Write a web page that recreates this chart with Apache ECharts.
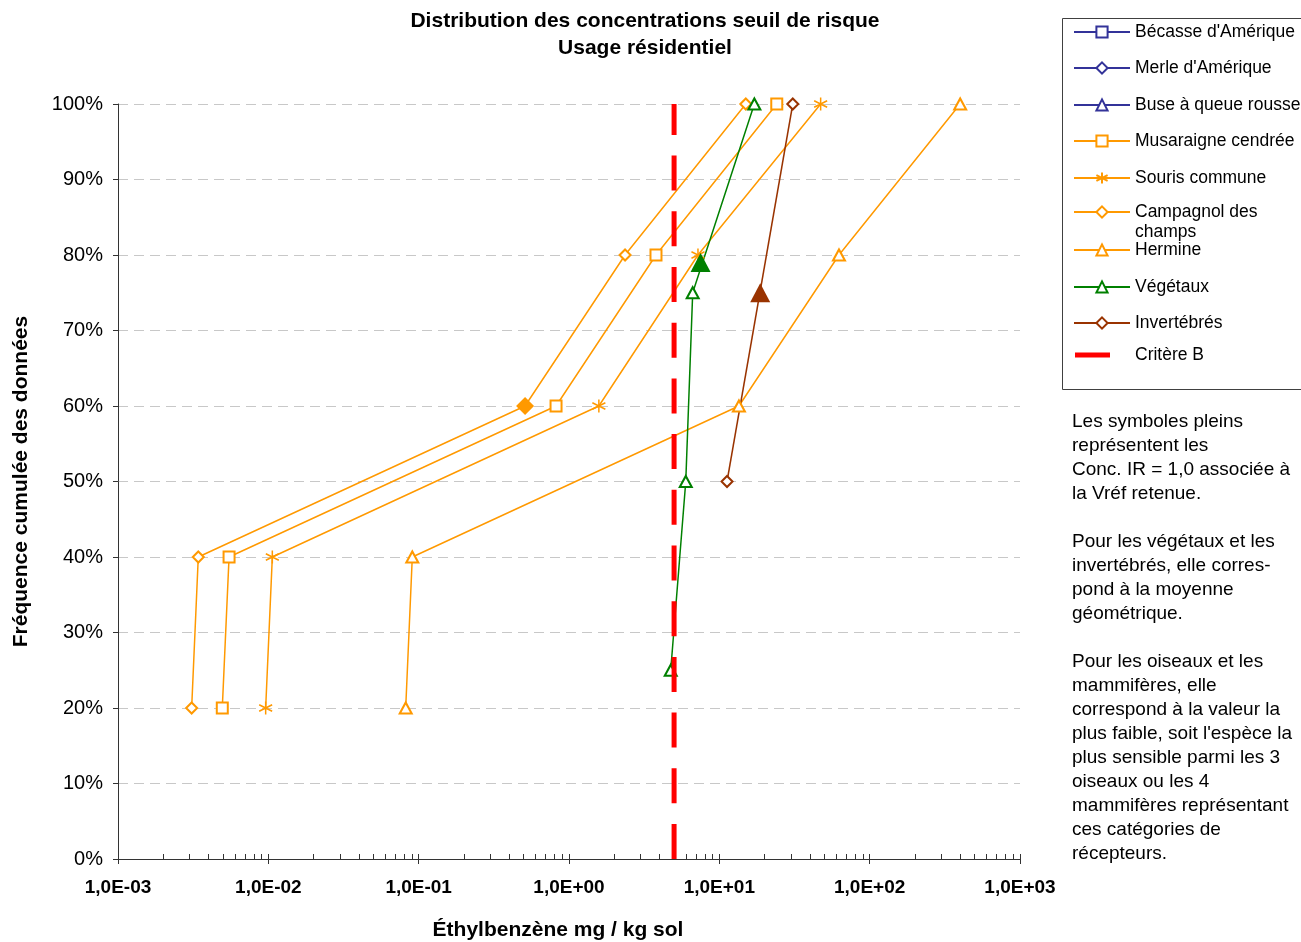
<!DOCTYPE html>
<html><head><meta charset="utf-8">
<script src="https://cdn.jsdelivr.net/npm/echarts@6/dist/echarts.min.js"></script>
<style>html,body{margin:0;padding:0;background:#fff}#chart{width:1301px;height:942px}</style>
</head><body><div id="chart"></div>
<script>
// ---------- DATA ----------
const titleText = 'Distribution des concentrations seuil de risque\nUsage résidentiel';
const xAxisName = 'Éthylbenzène mg / kg sol';
const yAxisName = 'Fréquence cumulée des données';
const xMajorTicks = [0.001, 0.01, 0.1, 1, 10, 100, 1000];
const xMinorTicks = [1000];
xMajorTicks.slice(0, -1).forEach(function (d) { for (let m = 1; m <= 9; m++) xMinorTicks.push(+(m * d).toPrecision(3)); });

const mammalY = [20, 40, 60, 80, 100];
const becasseX = [];
const merleX = [];
const buseX = [];
const musaraigneX = [0.00494, 0.00548, 0.82, 3.79, 24.1];
const sourisX = [0.0096, 0.01063, 1.58, 7.21, 47.2];
const campagnolX = [0.00309, 0.00342, 0.51, 2.36, 15.0];
const hermineX = [0.082, 0.0907, 13.5, 62.5, 400];
const vegetauxX = [4.75, 5.98, 6.65, 17.1];
const vegetauxY = [25, 50, 75, 100];
const invertX = [11.25, 30.8];
const invertY = [50, 100];
const critereB = 5;
const critereY = [0, 100];
// filled symbols (Conc. IR = 1,0)
const campagnolIR = [0.51, 60];
const vegetauxIR = [7.5, 79];
const invertIR = [18.7, 75];

const annotationLines = [
  'Les symboles pleins', 'représentent les', 'Conc. IR = 1,0 associée à', 'la Vréf retenue.', '',
  'Pour les végétaux et les', 'invertébrés, elle corres-', 'pond à la moyenne', 'géométrique.', '',
  'Pour les oiseaux et les', 'mammifères, elle', 'correspond à la valeur la', "plus faible, soit l'espèce la",
  'plus sensible parmi les 3', 'oiseaux ou les 4', 'mammifères représentant', 'ces catégories de', 'récepteurs.'
];

const names = ["Bécasse d'Amérique", "Merle d'Amérique", 'Buse à queue rousse', 'Musaraigne cendrée',
  'Souris commune', 'Campagnol des champs', 'Hermine', 'Végétaux', 'Invertébrés', 'Critère B'];

// ---------- STYLE / LAYOUT ----------
const FONT = 'Liberation Sans, Arial, sans-serif';
const ORANGE = '#FF9900', NAVY = '#333399', GREEN = '#008000', BROWN = '#993300', RED = '#FF0000';
const STAR = 'path://M5 0 L5 10 M0.7 2.5 L9.3 7.5 M0.7 7.5 L9.3 2.5';
const legendCenters = [30, 66, 103, 139, 176, 212, 248, 285, 321, 357];

function zip(xs, ys) { return xs.map(function (x, i) { return [x, ys[i]]; }); }
function lineSeries(name, data, color, symbol, size) {
  return {
    name: name, type: 'line', data: data, symbol: symbol, symbolSize: size,
    lineStyle: { color: color, width: 1.5 },
    itemStyle: { color: color, borderColor: color, borderWidth: 1.5 },
    emphasis: { disabled: true }, z: 2
  };
}
function fmtX(v) {
  const e = Math.round(Math.log10(v));
  const a = Math.abs(e);
  return '1,0E' + (e < 0 ? '-' : '+') + (a < 10 ? '0' : '') + a;
}

const series = [
  lineSeries(names[0], zip(becasseX, mammalY), NAVY, 'emptyRect', 11),
  lineSeries(names[1], zip(merleX, mammalY), NAVY, 'emptyDiamond', 11),
  lineSeries(names[2], zip(buseX, mammalY), NAVY, 'emptyTriangle', [12, 11]),
  lineSeries(names[3], zip(musaraigneX, mammalY), ORANGE, 'emptyRect', 11),
  lineSeries(names[4], zip(sourisX, mammalY), ORANGE, STAR, 13),
  lineSeries(names[5], zip(campagnolX, mammalY), ORANGE, 'emptyDiamond', 11),
  lineSeries(names[6], zip(hermineX, mammalY), ORANGE, 'emptyTriangle', [12, 11]),
  lineSeries(names[7], zip(vegetauxX, vegetauxY), GREEN, 'emptyTriangle', [12, 11]),
  lineSeries(names[8], zip(invertX, invertY), BROWN, 'emptyDiamond', 11),
  {
    name: names[9], type: 'line', data: critereY.map(function (y) { return [critereB, y]; }),
    symbol: 'none', lineStyle: { color: RED, width: 5, type: [35, 20.7] },
    itemStyle: { color: RED }, emphasis: { disabled: true }, z: 3
  },
  { name: 'IR Campagnol', type: 'scatter', data: [campagnolIR], symbol: 'diamond', symbolSize: 18,
    itemStyle: { color: ORANGE, opacity: 1 }, z: 4, emphasis: { disabled: true } },
  { name: 'IR Végétaux', type: 'scatter', data: [vegetauxIR], symbol: 'triangle', symbolSize: [20, 19],
    itemStyle: { color: GREEN, opacity: 1 }, z: 4, emphasis: { disabled: true } },
  { name: 'IR Invertébrés', type: 'scatter', data: [invertIR], symbol: 'triangle', symbolSize: [20, 19],
    itemStyle: { color: BROWN, opacity: 1 }, z: 4, emphasis: { disabled: true } }
];

const legendText = { fontSize: 17.5, fontFamily: FONT, color: '#000' };
const legends = names.map(function (n, i) {
  if (i === 5) {
    return {
      data: [n], left: 1073, top: legendCenters[i] - 30,
      itemWidth: 56, itemHeight: 14, padding: 0, itemGap: 0, selectedMode: false,
      formatter: function () { return '\u00a0\nCampagnol des\nchamps'; },
      textStyle: Object.assign({ lineHeight: 20 }, legendText)
    };
  }
  if (i === 9) {
    return {
      data: [{ name: n, icon: 'rect' }], left: 1075, top: legendCenters[i] - 11,
      itemWidth: 35, itemHeight: 5, padding: 0, itemGap: 0, selectedMode: false,
      textStyle: Object.assign({ padding: [6, 0, 0, 20] }, legendText)
    };
  }
  return {
    data: [n], left: 1073, top: legendCenters[i] - 7,
    itemWidth: 56, itemHeight: 14, padding: 0, itemGap: 0, selectedMode: false,
    textStyle: legendText
  };
});

const chart = echarts.init(document.getElementById('chart'), null, { renderer: 'canvas' });
chart.setOption({
  animation: false,
  backgroundColor: '#fff',
  title: {
    text: titleText, left: 640, top: 3, textAlign: 'center',
    textStyle: { fontSize: 21, fontWeight: 'bold', fontFamily: FONT, color: '#000', lineHeight: 27 }
  },
  grid: { left: 118, right: 281, top: 104, bottom: 83, containLabel: false, outerBoundsMode: 'none' },
  legend: legends,
  xAxis: [{
    type: 'log', logBase: 10, min: 0.001, max: 1000,
    name: xAxisName, nameLocation: 'middle', nameGap: 61,
    nameTextStyle: { fontSize: 21, fontWeight: 'bold', fontFamily: FONT, color: '#000', padding: [0, 22, 0, 0] },
    axisLine: { lineStyle: { color: '#333', width: 1 } },
    axisTick: { show: true, length: 5, customValues: xMajorTicks, lineStyle: { color: '#333' } },
    axisLabel: { customValues: xMajorTicks, formatter: fmtX, fontSize: 19, fontWeight: 'bold', fontFamily: FONT, color: '#000', margin: 19 },
    splitLine: { show: false }, minorTick: { show: false }
  }, {
    type: 'log', logBase: 10, min: 0.001, max: 1000, position: 'bottom', gridIndex: 0,
    axisLine: { show: false },
    axisTick: { show: true, inside: true, length: 5, customValues: xMinorTicks, lineStyle: { color: '#333' } },
    axisLabel: { show: false }, splitLine: { show: false }
  }],
  yAxis: {
    type: 'value', min: 0, max: 100, interval: 10,
    name: yAxisName, nameLocation: 'middle', nameGap: 86,
    nameTextStyle: { fontSize: 21, fontWeight: 'bold', fontFamily: FONT, color: '#000' },
    axisLine: { show: true, lineStyle: { color: '#333', width: 1 } },
    axisTick: { show: true, length: 5, lineStyle: { color: '#333' } },
    axisLabel: { formatter: '{value}%', fontSize: 20, fontFamily: FONT, color: '#000', margin: 15 },
    splitLine: { show: true, lineStyle: { color: '#c8c8c8', width: 1, type: [10, 6] } }
  },
  graphic: [
    { type: 'rect', left: 1060, top: 16, shape: { width: 260, height: 371 },
      style: { fill: 'none', stroke: '#404040', lineWidth: 1 }, z: -1 },
    { type: 'text', left: 1072, top: 410,
      style: { text: annotationLines.join('\n'), fontSize: 19, fontFamily: FONT, fill: '#000', lineHeight: 24 } }
  ],
  series: series
});
</script></body></html>
